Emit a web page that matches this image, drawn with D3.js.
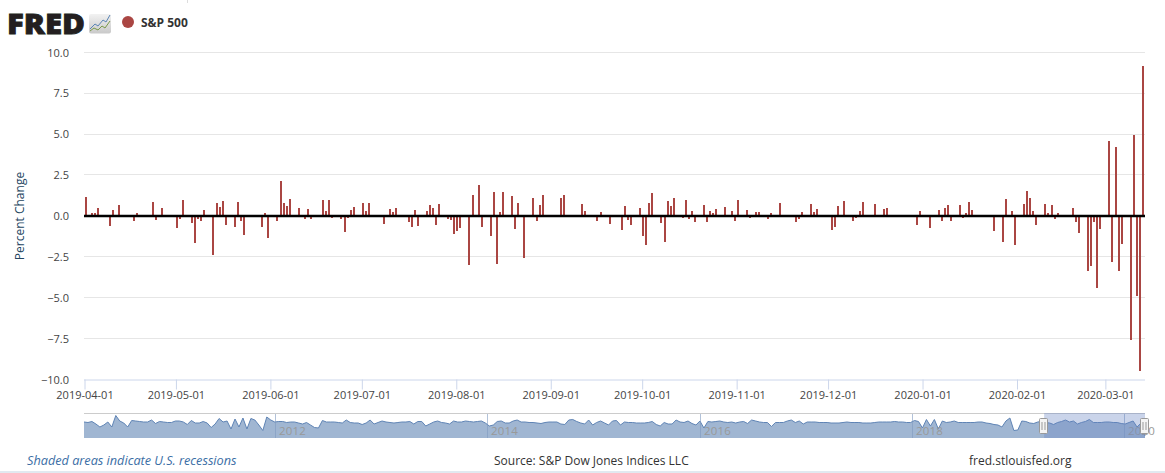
<!DOCTYPE html>
<html><head><meta charset="utf-8">
<script src="https://cdn.jsdelivr.net/npm/d3@7"></script>
<style>
html,body{margin:0;padding:0;background:#fff;overflow:hidden}
svg{display:block}
text{font-family:"Open Sans",sans-serif}
</style></head><body><svg id="c" width="1165" height="473"></svg>
<script>
const seriesName = "S&P 500";
const yTicks = [-10,-7.5,-5,-2.5,0,2.5,5,7.5,10];
const xTicks = ["2019-04-01","2019-05-01","2019-06-01","2019-07-01","2019-08-01","2019-09-01","2019-10-01","2019-11-01","2019-12-01","2020-01-01","2020-02-01","2020-03-01"];
const sp500 = [
["2019-04-01",1.16],["2019-04-02",0.0],["2019-04-03",0.21],["2019-04-04",0.2],["2019-04-05",0.46],
["2019-04-08",0.04],["2019-04-09",-0.61],["2019-04-10",0.35],["2019-04-11",0.0],["2019-04-12",0.66],
["2019-04-15",-0.06],["2019-04-16",0.05],["2019-04-17",-0.3],["2019-04-18",0.16],
["2019-04-23",0.88],["2019-04-24",-0.26],["2019-04-25",-0.07],["2019-04-26",0.47],
["2019-04-29",0.04],["2019-04-30",0.04],["2019-05-01",-0.75],["2019-05-02",-0.21],["2019-05-03",0.96],
["2019-05-06",-0.45],["2019-05-07",-1.65],["2019-05-08",-0.16],["2019-05-09",-0.3],["2019-05-10",0.37],
["2019-05-13",-2.41],["2019-05-14",0.8],["2019-05-15",0.58],["2019-05-16",0.89],["2019-05-17",-0.58],
["2019-05-20",-0.67],["2019-05-21",0.85],["2019-05-22",-0.28],["2019-05-23",-1.19],["2019-05-24",0.04],
["2019-05-29",-0.69],["2019-05-30",0.21],["2019-05-31",-1.36],
["2019-06-03",-0.28],["2019-06-04",2.14],["2019-06-05",0.82],["2019-06-06",0.61],["2019-06-07",1.05],
["2019-06-10",0.47],["2019-06-11",-0.03],["2019-06-12",-0.2],["2019-06-13",0.41],["2019-06-14",-0.16],
["2019-06-17",0.04],["2019-06-18",0.97],["2019-06-19",0.3],["2019-06-20",0.95],["2019-06-21",-0.13],
["2019-06-24",-0.17],["2019-06-25",-0.95],["2019-06-26",-0.12],["2019-06-27",0.38],["2019-06-28",0.58],
["2019-07-01",0.77],["2019-07-02",0.29],["2019-07-03",0.77],
["2019-07-08",-0.48],["2019-07-09",0.04],["2019-07-10",0.45],["2019-07-11",0.23],["2019-07-12",0.46],
["2019-07-15",0.02],["2019-07-16",-0.34],["2019-07-17",-0.65],["2019-07-18",0.36],["2019-07-19",-0.62],
["2019-07-22",0.28],["2019-07-23",0.68],["2019-07-24",0.47],["2019-07-25",-0.53],["2019-07-26",0.74],
["2019-07-29",-0.16],["2019-07-30",-0.26],["2019-07-31",-1.09],["2019-08-01",-0.9],["2019-08-02",-0.73],
["2019-08-05",-2.98],["2019-08-06",1.3],["2019-08-07",0.04],["2019-08-08",1.88],["2019-08-09",-0.66],
["2019-08-12",-1.2],["2019-08-13",1.48],["2019-08-14",-2.93],["2019-08-15",0.25],["2019-08-16",1.44],
["2019-08-19",1.21],["2019-08-20",-0.79],["2019-08-21",0.82],["2019-08-22",-0.05],["2019-08-23",-2.59],
["2019-08-26",1.1],["2019-08-27",-0.32],["2019-08-28",0.65],["2019-08-29",1.27],["2019-08-30",0.04],
["2019-09-04",1.08],["2019-09-05",1.3],["2019-09-06",0.04],
["2019-09-09",-0.01],["2019-09-10",0.03],["2019-09-11",0.72],["2019-09-12",0.29],["2019-09-13",-0.07],
["2019-09-16",-0.31],["2019-09-17",0.26],["2019-09-18",0.03],["2019-09-19",0.0],["2019-09-20",-0.49],
["2019-09-23",-0.01],["2019-09-24",-0.84],["2019-09-25",0.62],["2019-09-26",-0.24],["2019-09-27",-0.53],
["2019-09-30",0.5],["2019-10-01",-1.23],["2019-10-02",-1.79],["2019-10-03",0.8],["2019-10-04",1.42],
["2019-10-07",-0.45],["2019-10-08",-1.56],["2019-10-09",0.91],["2019-10-10",0.64],["2019-10-11",1.09],
["2019-10-14",-0.14],["2019-10-15",1.0],["2019-10-16",-0.2],["2019-10-17",0.28],["2019-10-18",-0.39],
["2019-10-21",0.69],["2019-10-22",-0.36],["2019-10-23",0.28],["2019-10-24",0.19],["2019-10-25",0.41],
["2019-10-28",0.56],["2019-10-29",-0.08],["2019-10-30",0.33],["2019-10-31",-0.3],["2019-11-01",0.97],
["2019-11-04",0.37],["2019-11-05",-0.12],["2019-11-06",0.04],["2019-11-07",0.27],["2019-11-08",0.26],
["2019-11-11",-0.2],["2019-11-12",0.16],["2019-11-13",0.04],["2019-11-14",0.04],["2019-11-15",0.77],
["2019-11-18",0.04],["2019-11-19",-0.06],["2019-11-20",-0.38],["2019-11-21",-0.16],["2019-11-22",0.22],
["2019-11-25",0.75],["2019-11-26",0.22],["2019-11-27",0.42],
["2019-12-02",-0.86],["2019-12-03",-0.66],["2019-12-04",0.63],["2019-12-05",0.04],["2019-12-06",0.91],
["2019-12-09",-0.32],["2019-12-10",-0.11],["2019-12-11",0.29],["2019-12-12",0.86],["2019-12-13",0.01],
["2019-12-16",0.71],["2019-12-17",0.03],["2019-12-18",-0.04],["2019-12-19",0.45],["2019-12-20",0.49],
["2019-12-23",0.04],["2019-12-24",-0.02],["2019-12-27",0.0],
["2019-12-30",-0.58],["2019-12-31",0.29],["2020-01-03",-0.71],
["2020-01-06",0.35],["2020-01-07",-0.28],["2020-01-08",0.49],["2020-01-09",0.67],["2020-01-10",-0.29],
["2020-01-13",0.7],["2020-01-14",-0.15],["2020-01-15",0.19],["2020-01-16",0.84],["2020-01-17",0.39],
["2020-01-22",0.03],["2020-01-23",0.04],["2020-01-24",-0.9],
["2020-01-27",-1.57],["2020-01-28",1.01],["2020-01-29",-0.09],["2020-01-30",0.31],["2020-01-31",-1.77],
["2020-02-03",0.73],["2020-02-04",1.5],["2020-02-05",1.13],["2020-02-06",0.33],["2020-02-07",-0.54],
["2020-02-10",0.73],["2020-02-11",0.17],["2020-02-12",0.65],["2020-02-13",-0.16],["2020-02-14",0.18],
["2020-02-19",0.47],["2020-02-20",-0.38],["2020-02-21",-1.05],
["2020-02-24",-3.35],["2020-02-25",-3.03],["2020-02-26",-0.38],["2020-02-27",-4.42],["2020-02-28",-0.82],
["2020-03-02",4.6],["2020-03-03",-2.81],["2020-03-04",4.22],["2020-03-05",-3.39],["2020-03-06",-1.71],
["2020-03-09",-7.6],["2020-03-10",4.94],["2020-03-11",-4.89],["2020-03-12",-9.51],["2020-03-13",9.2]
];
// Navigator overview, evenly spaced samples over the ten-year span
const navValues = [
0,-.5,.5,-2,-5,-3,0,-5,6.5,1,-1,-5,1.5,1,.5,0,0,2,-1.5,.5,0,-.5,-.5,1,1,0,-2.5,1.5,-1,-1,.5,-1,-5.5,-2,3.5,0,1,-7,3,-5,4,-7,3.5,2,-3,-8.5,5,2,0,.5,.5,-.5,0,0,-1,-2,-.5,-3,-5.5,-6,1.5,0,0,0,-.5,-1,2,
-.5,-1,-1,-2.5,-1,2,-2,-.5,1,0,-.5,-1,-.5,0,0,.5,-2,.5,.5,-4,-2,0,1,-.5,-1,-2,1,0,0,1,.5,0,.5,1,-1,-4,-3,.5,1,-1,-1,1,2,0,0,-.5,-.5,-1,-1.5,-.5,0,0,0,-2,-2.5,2,2.5,.5,-1,-2,2,-3,-.5,1,-1,-3,1,
1.5,-3,0,-.5,-.5,-1,-1,-1,-.5,.5,-2.5,-4,-.5,-2,-2,2,0,-.5,1,-1.5,-3,1,-6,.5,0,.5,1,0,-.5,0,-1,0,.5,-1.5,2,1,0,-.5,-.5,-4.5,-.5,-.5,-.5,1,2,-.5,1,-2,0,0,0,-.5,-.5,-.5,-1,-1,-1,-.5,0,-.5,-.5,-.5,-1,-1,-1,-.5,0,
0,0,0,.5,0,0,-.5,-.5,1.5,.5,-6,2.5,-4,2.5,-7,1,-.5,0,1,-.5,-.5,-.5,-.5,-.5,0,0,-1,-1.5,-2.5,-3,-5,1,4,-8.5,-8,1,.5,-1,-1.5,0,.5,-.5,-1,-2.5,-.5,.5,2,0,1,-2,-.5,.5,2.5,-.5,-.5,-.5,0,0,-.5,-.5,-1.5,-2,-.5,1,-5,-1,-14
];
const navYearLabels = ["2012-01-01","2014-01-01","2016-01-01","2018-01-01","2020-01-01"];
const navSpan = ["2010-03-15","2020-03-13"];
const selectedSpan = ["2019-04-01","2020-03-14"];

const parse = d3.utcParse("%Y-%m-%d");
const fmt = d3.utcFormat("%Y-%m-%d");
const svg = d3.select("#c");
const L=84.5, R=1145, T=52.5, B=379.5;
const x = d3.scaleUtc().domain(selectedSpan.map(parse)).range([L,R]);
const y = d3.scaleLinear().domain([-10,10]).range([B,T]);

// grid
const gridY = d => Math.round(y(d)+0.3)-0.5;
svg.append("g").selectAll("line").data(yTicks.filter(d=>d!==-10)).join("line")
  .attr("x1",84).attr("x2",R).attr("y1",gridY).attr("y2",gridY)
  .attr("stroke","#e6e6e6").attr("stroke-width",1);

// bars
svg.append("g").selectAll("rect").data(sp500).join("rect")
  .attr("x",d=>Math.round(x(parse(d[0]))))
  .attr("width",2)
  .attr("y",d=>Math.round(Math.min(y(d[1]),y(0))))
  .attr("height",d=>Math.round(Math.abs(y(d[1])-y(0))))
  .attr("fill","#aa4643");

// zero line
svg.append("rect").attr("x",84).attr("width",R-84).attr("y",y(0)-1.25).attr("height",2.5).attr("fill","#000");

// y axis
const ya = svg.append("g").attr("transform",`translate(${L},0)`)
  .call(d3.axisLeft(y).tickValues(yTicks).tickSize(0).tickPadding(15.5).tickFormat(d3.format(".1f")));
ya.select(".domain").remove();
ya.selectAll("text").attr("font-size",11).attr("fill","#444").attr("font-family",'"Open Sans",sans-serif');

// x axis
const xa = svg.append("g").attr("transform",`translate(0,${B})`)
  .call(d3.axisBottom(x).tickValues(xTicks.map(parse)).tickSize(10).tickPadding(2).tickFormat(fmt));
xa.select(".domain").attr("d",`M84,0.5H${R}`).attr("stroke","#ccd6eb");
xa.selectAll("line").attr("stroke","#ccd6eb");
xa.selectAll("text").attr("font-size",11).attr("fill","#444").attr("font-family",'"Open Sans",sans-serif');

svg.append("text").attr("transform","translate(24,216) rotate(-90)").attr("text-anchor","middle")
  .attr("font-size",12).attr("fill","#24455f").text("Percent Change");

// navigator
const nx = d3.scaleUtc().domain(navSpan.map(parse)).range([84,1145]);
const ny = d3.scaleLinear().domain([-16,9]).range([438,413]);
const t0 = +parse(navSpan[0]), t1 = +parse(navSpan[1]);
const navDate = i => new Date(t0 + (t1-t0)*i/(navValues.length-1));
const nav = svg.append("g");
nav.append("path").datum(navValues)
  .attr("d",d3.area().x((d,i)=>nx(navDate(i))).y0(438).y1(d=>ny(d)))
  .attr("fill","#a0b6d2");
nav.append("path").datum(navValues)
  .attr("d",d3.line().x((d,i)=>nx(navDate(i))).y(d=>ny(d)))
  .attr("fill","none").attr("stroke","#5f84b5").attr("stroke-width",1);
nav.append("line").attr("x1",84).attr("x2",1145).attr("y1",413.5).attr("y2",413.5).attr("stroke","#cccccc");
const navT = nav.append("g").selectAll("g").data(navYearLabels).join("g")
  .attr("transform",d=>`translate(${Math.round(nx(parse(d)))+0.5},0)`);
navT.append("line").attr("y1",414).attr("y2",438).attr("stroke","#7f9abf").attr("stroke-opacity",0.6);
navT.append("text").attr("x",3.5).attr("y",435).attr("font-size",11.5).attr("fill","#999").attr("letter-spacing",0.2).text(d=>d.slice(0,4));
// selection mask
const sx0 = nx(parse(selectedSpan[0])), sx1=1145;
nav.append("rect").attr("x",sx0).attr("y",413).attr("width",sx1-sx0).attr("height",25).attr("fill","rgb(102,133,194)").attr("fill-opacity",0.35);
// handles
[sx0,sx1].forEach(h=>{
  const g=nav.append("g").attr("transform",`translate(${Math.round(h)-0.5},0)`);
  g.append("rect").attr("x",-4).attr("y",418.5).attr("width",8).attr("height",15).attr("rx",1).attr("fill","#f4f4f4").attr("stroke","#999");
  g.append("line").attr("x1",-1.5).attr("x2",-1.5).attr("y1",422).attr("y2",430).attr("stroke","#999");
  g.append("line").attr("x1",1.5).attr("x2",1.5).attr("y1",422).attr("y2",430).attr("stroke","#999");
});

// header
svg.append("text").attr("x",7).attr("y",34).attr("font-size",28).attr("font-weight",800)
  .attr("textLength",78).attr("lengthAdjust","spacingAndGlyphs").attr("fill","#231f20")
  .attr("stroke","#231f20").attr("stroke-width",0.8).text("FRED");
const grad = svg.append("defs").append("linearGradient").attr("id","lg").attr("x1",0).attr("x2",0).attr("y1",0).attr("y2",1);
grad.append("stop").attr("offset",0).attr("stop-color","#f2f2f2");
grad.append("stop").attr("offset",1).attr("stop-color","#c9c9c9");
svg.append("rect").attr("x",89).attr("y",14).attr("width",22).attr("height",19.5).attr("rx",2).attr("fill","url(#lg)");
svg.append("path").attr("d","M90,29 L95,24 L98,26 L103,20 L106,22 L110,15").attr("fill","none").attr("stroke","#5b85b5").attr("stroke-width",1);
svg.append("path").attr("d","M90,31 L94,28 L98,30 L102,26 L105,28 L110,21").attr("fill","none").attr("stroke","#7a9a4a").attr("stroke-width",1);
svg.append("circle").attr("cx",128).attr("cy",22).attr("r",6).attr("fill","#aa4643");
svg.append("text").attr("x",141).attr("y",27).attr("font-size",12).attr("font-weight",700).attr("fill","#333").text(seriesName);
svg.append("line").attr("x1",187.5).attr("x2",187.5).attr("y1",0).attr("y2",3).attr("stroke","#ddd");

// footer
svg.append("text").attr("x",27).attr("y",465).attr("font-size",12.7).attr("font-style","italic").attr("fill","#3b6ea5").text("Shaded areas indicate U.S. recessions");
svg.append("text").attr("x",494).attr("y",465).attr("font-size",12).attr("fill","#333").text("Source: S&P Dow Jones Indices LLC");
svg.append("text").attr("x",969).attr("y",465).attr("font-size",12).attr("fill","#333").text("fred.stlouisfed.org");
svg.append("rect").attr("x",0).attr("y",471).attr("width",1165).attr("height",2).attr("fill","#e1e9f0");
</script></body></html>
